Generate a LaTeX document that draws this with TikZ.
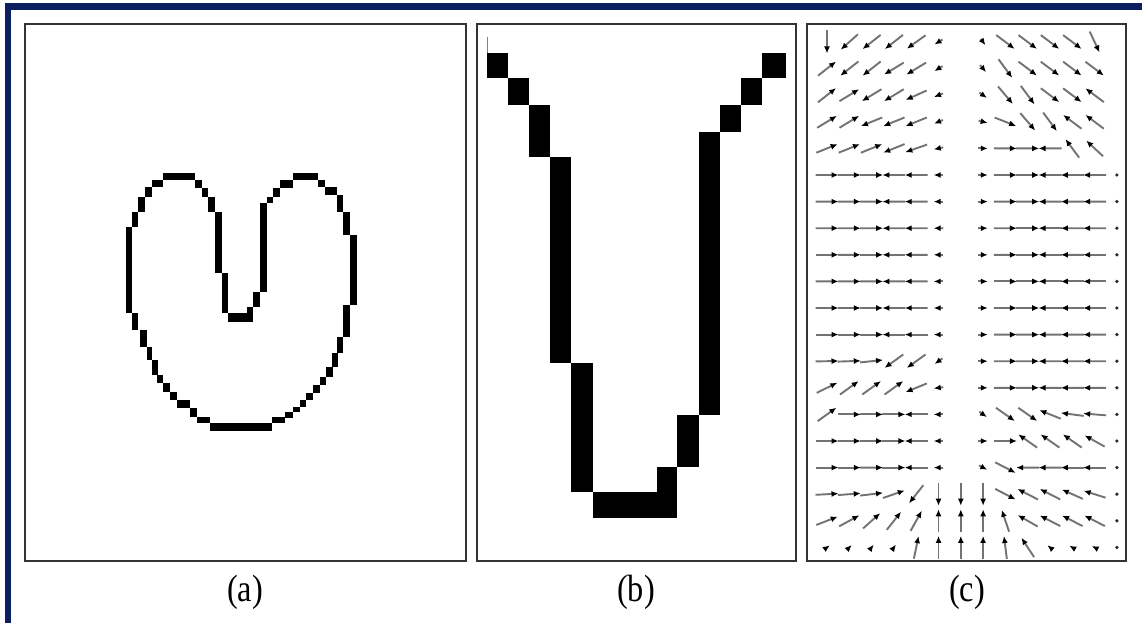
\documentclass[tikz,border=0pt]{standalone}
\usepackage{fontspec}
\setmainfont{Liberation Serif}
\usetikzlibrary{arrows.meta}
\definecolor{navy}{HTML}{0B1F5E}
\tikzset{
  panelbox/.style={draw=black!80, line width=2pt},
  pix/.style={fill=black},
  qv/.style={draw=black!55, line width=1.9pt, -{Latex[length=7pt,width=6pt,color=black]}},
  qdot/.style={fill=black!85},
  caption/.style={font=\fontsize{38}{38}\selectfont, inner sep=0pt, xscale=0.85}
}
\def\vfsegs{82.7/6.2/84.9/9.0, 84.9/9.0/86.6/11.8, 86.6/11.8/88.3/16, 88.3/16/88.3/36, 88.3/36/90.6/39.2, 90.6/39.2/90.6/49, 90.6/49/92.5/50.5, 92.5/50.5/100/50.5, 100/50.5/101.8/47, 101.8/47/101.8/44, 101.8/44/103.9/41, 103.9/41/103.9/13.5, 103.9/13.5/106.2/11.8, 106.2/11.8/108.3/9, 108.3/9/110.4/6.2}
\newcommand\vfnearest[2]{%
  \gdef\vfbest{1000}%
  \foreach \vfax/\vfay/\vfbx/\vfby in \vfsegs {%
    \pgfmathsetmacro\vfdx{\vfbx-\vfax}%
    \pgfmathsetmacro\vfdy{\vfby-\vfay}%
    \pgfmathsetmacro\vft{max(0,min(1,((#1-\vfax)*\vfdx+(#2-\vfay)*\vfdy)/(\vfdx*\vfdx+\vfdy*\vfdy)))}%
    \pgfmathsetmacro\vfqx{\vfax+\vft*\vfdx}%
    \pgfmathsetmacro\vfqy{\vfay+\vft*\vfdy}%
    \pgfmathsetmacro\vfd{veclen(\vfqx-#1,\vfqy-#2)}%
    \pgfmathparse{\vfd<\vfbest?1:0}%
    \ifnum\pgfmathresult=1 \xdef\vfbest{\vfd}\xdef\vfbqx{\vfqx}\xdef\vfbqy{\vfqy}\fi
  }%
}
\begin{document}
\begin{tikzpicture}[x=1pt,y=-1pt]
\useasboundingbox (0,0) rectangle (1142,623);
\fill[white] (0,0) rectangle (1142,623);
% navy frame
\fill[navy] (5,3.5) rectangle (1142,10);
\fill[navy] (5,3.5) rectangle (11,623);
% panel boxes
\draw[panelbox] (25,24.5) rectangle (466,561);
\draw[panelbox] (477,24.5) rectangle (796,561);
\draw[panelbox] (807,24.5) rectangle (1126,561);
% (a) heart
\foreach \xa/\ya/\xb/\yb in {163/173/195/180, 152/180/163/187, 195/180/202/188, 145/187/152/197,
  202/188/208/197, 138/197/145/212, 208/197/215/212, 132/212/138/227, 126/227/132/313,
  215/212/222/273, 222/273/228/313, 228/313/253/322, 247/307/253/313, 253/292/260/307,
  260/203/267/292, 267/197/273/203, 273/188/280/197, 280/180/293/188, 293/173/318/180,
  318/180/325/187, 325/187/337/195, 337/195/343/212, 343/212/350/235, 350/235/357/305,
  343/305/350/337, 337/337/343/353, 332/353/338/367, 326/367/333/377, 320/377/326/385,
  313/385/320/393, 306/393/313/400, 300/400/306/407, 293/407/300/412, 285/412/293/418,
  272/417/285/423, 210/423/272/431, 197/417/210/423, 190/408/197/417, 177/400/190/408,
  170/392/177/400, 163/383/170/392, 157/375/163/383, 152/360/158/375, 147/347/152/360,
  140/330/147/347, 132/313/138/330}
  \fill[pix] (\xa,\ya) rectangle (\xb,\yb);
% (b) V shape
\foreach \xa/\ya/\xb/\yb in {487/53/508/78, 508/78/529/105, 529/105/550/157, 550/157/571/363,
  571/363/593/492, 593/492/677/518, 657/467/677/492, 677/415/699/467, 699/132/720/415,
  720/105/741/132, 741/78/762/105, 762/53/786/78}
  \fill[pix] (\xa,\ya) rectangle (\xb,\yb);
\draw[black!50, line width=1pt] (487,37) -- (487,53);
% (c) vector field
\foreach \r in {0,...,19} {
  \foreach \c in {0,...,13} {
    \pgfmathsetmacro\vfX{82.7+2.23*\c}
    \pgfmathsetmacro\vfY{4.2+2.66*\r}
    \vfnearest{\vfX}{\vfY}
    \pgfmathsetmacro\vfux{(\vfbqx-\vfX)/max(\vfbest,0.01)}
    \pgfmathsetmacro\vfuy{(\vfbqy-\vfY)/max(\vfbest,0.01)}
    \pgfmathsetmacro\vff{(\vfY<47 && \vfX>88.3 && \vfX<103.9) ? max(0,min(1,(abs(\vfX-96.1)-1.2)/2.5)) : 1}
    \pgfmathsetmacro\vfg{max(0.2,min(1,(15-\vfbest)/5))}
    \pgfmathsetmacro\vfh{(\r==19 && (\c<4 || \c>9)) ? 0.3 : 1}
    \pgfmathsetmacro\vfL{2.3*\vff*\vfg*\vfh}
    \ifnum\c=13\relax
      \ifnum\r>4\relax \fill[qdot] ({\vfX*10},{\vfY*10}) circle (1.8); \fi
    \else
      \ifdim\vfL pt<0.45pt\relax
        \ifdim\vfL pt>0.05pt\relax \fill[qdot] ({\vfX*10},{\vfY*10}) circle (2); \fi
      \else
        \draw[qv] ({(\vfX-\vfux*\vfL/2)*10},{(\vfY-\vfuy*\vfL/2)*10}) -- ({(\vfX+\vfux*\vfL/2)*10},{(\vfY+\vfuy*\vfL/2)*10});
      \fi
    \fi
  }
}
% captions
\node[caption] (capA) at (245,592) {(a)};
\node[caption] (capB) at (636,592) {(b)};
\node[caption] (capC) at (967,592) {(c)};
\end{tikzpicture}
\end{document}
